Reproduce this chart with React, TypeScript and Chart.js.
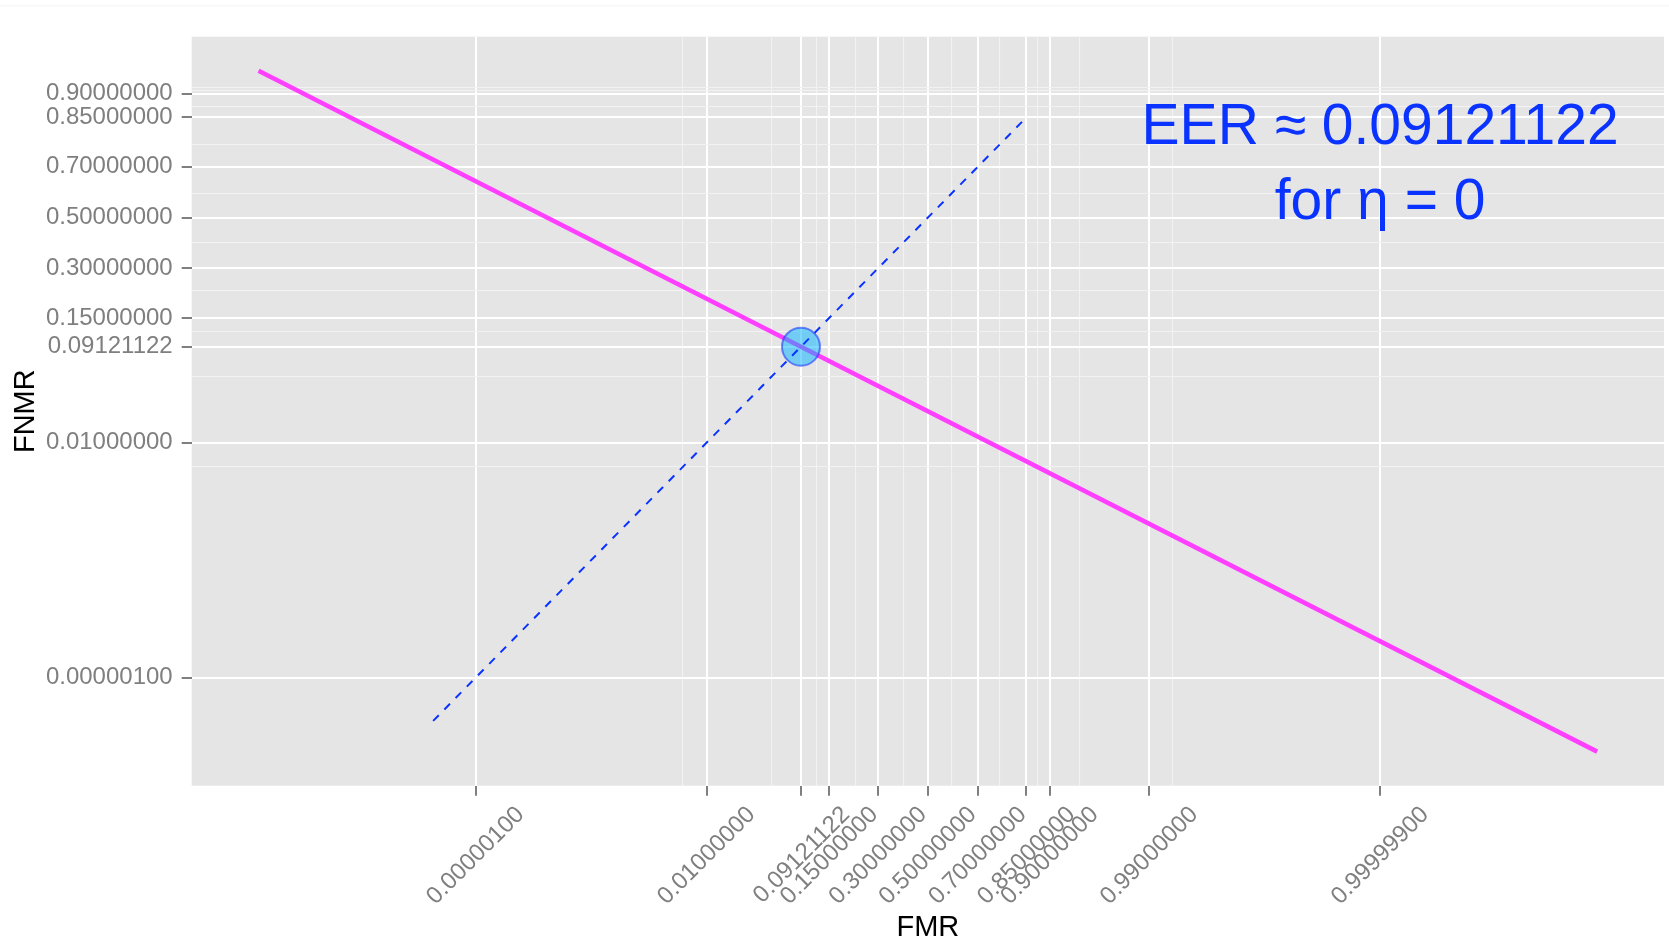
import React, { useEffect, useRef } from "react";
import { Chart, registerables } from "chart.js";

Chart.register(...registerables);

// Axis break probabilities (drawn on a normal-deviate / probit scale)
const fmrBreaks = [0.000001, 0.01, 0.09121122, 0.15, 0.3, 0.5, 0.7, 0.85, 0.9, 0.99, 0.999999];
const fnmrBreaks = [0.000001, 0.01, 0.09121122, 0.15, 0.3, 0.5, 0.7, 0.85, 0.9];

// DET curve: FMR / FNMR pairs
const detFmr = [1e-12, 0.09121122, 0.999999999999];
const detFnmr = [0.9354, 0.09121122, 1.725e-8];

// FMR = FNMR reference diagonal
const diagFmr = [1e-7, 0.85];
const diagFnmr = [1e-7, 0.85];

// Equal error rate and threshold shown in the annotation
const eer = 0.09121122;
const eta = 0;

// Panel limits in normal deviates
const xLimits = [-7.737, 7.737];
const yLimits = [-5.869, 1.869];

// Annotation anchor (FMR, FNMR probability for each text line's baseline)
const noteFmr = 0.999999;
const noteFnmr = [0.778, 0.493];
const noteLines = [`EER \u2248 ${eer.toFixed(8)}`, `for \u03b7 = ${eta}`];

const FONT = '"Liberation Sans", Arial, Helvetica, sans-serif';

// Inverse standard normal CDF (Acklam's rational approximation)
function qnorm(p: number): number {
  const a = [-3.969683028665376e1, 2.209460984245205e2, -2.759285104469687e2, 1.38357751867269e2, -3.066479806614716e1, 2.506628277459239];
  const b = [-5.447609879822406e1, 1.615858368580409e2, -1.556989798598866e2, 6.680131188771972e1, -1.328068155288572e1];
  const c = [-7.784894002430293e-3, -3.223964580411365e-1, -2.400758277161838, -2.549732539343734, 4.374664141464968, 2.938163982698783];
  const d = [7.784695709041462e-3, 3.224671290700398e-1, 2.445134137142996, 3.754408661907416];
  const pl = 0.02425;
  if (p < pl) {
    const q = Math.sqrt(-2 * Math.log(p));
    return (((((c[0] * q + c[1]) * q + c[2]) * q + c[3]) * q + c[4]) * q + c[5]) / ((((d[0] * q + d[1]) * q + d[2]) * q + d[3]) * q + 1);
  }
  if (p <= 1 - pl) {
    const q = p - 0.5;
    const r = q * q;
    return ((((((a[0] * r + a[1]) * r + a[2]) * r + a[3]) * r + a[4]) * r + a[5]) * q) / (((((b[0] * r + b[1]) * r + b[2]) * r + b[3]) * r + b[4]) * r + 1);
  }
  const q = Math.sqrt(-2 * Math.log(1 - p));
  return -(((((c[0] * q + c[1]) * q + c[2]) * q + c[3]) * q + c[4]) * q + c[5]) / ((((d[0] * q + d[1]) * q + d[2]) * q + d[3]) * q + 1);
}

type TickObj = { value: number; p: number; minor: boolean };

// Major ticks plus minor grid positions halfway (in probability) between breaks
function buildTicks(majors: number[], limits: number[]): TickObj[] {
  const b = [...majors].sort((u, v) => u - v);
  const bd = b[1] - b[0];
  const ext = [b[0] - bd, ...b, b[b.length - 1] + bd];
  const minors: number[] = [];
  for (let i = 0; i < ext.length - 1; i++) {
    minors.push(ext[i], (ext[i] + ext[i + 1]) / 2);
  }
  minors.push(ext[ext.length - 1]);
  const inRange = (p: number) => p > 0 && p < 1 && qnorm(p) >= limits[0] && qnorm(p) <= limits[1];
  const list: TickObj[] = [
    ...majors.map((p) => ({ value: qnorm(p), p, minor: false })),
    ...minors.filter((p) => inRange(p) && !majors.includes(p)).map((p) => ({ value: qnorm(p), p, minor: true })),
  ];
  list.sort((u, v) => u.value - v.value);
  return list;
}

const xTicks = buildTicks(fmrBreaks, xLimits);
const yTicks = buildTicks(fnmrBreaks, yLimits);

const gridOptions = {
  color: (ctx: any) => (ctx.tick && ctx.tick.minor ? "#F2F2F2" : "#FFFFFF"),
  lineWidth: (ctx: any) => (ctx.tick && ctx.tick.minor ? 1.1 : 2),
  tickColor: (ctx: any) => (ctx.tick && ctx.tick.minor ? "rgba(0,0,0,0)" : "#7F7F7F"),
  tickWidth: 2,
  tickLength: 10,
  drawOnChartArea: true,
  drawTicks: true,
};

const tickLabel = function (this: any, _v: number, index: number, ticks: any[]) {
  const t = ticks[index];
  return t && !t.minor ? t.p.toFixed(8) : "";
};

const panelPlugin = {
  id: "panel",
  beforeDraw(chart: any) {
    const { ctx, chartArea } = chart;
    ctx.save();
    ctx.fillStyle = "#F7F7F7";
    ctx.fillRect(0, 5, chart.width, 1.5);
    ctx.fillStyle = "#E5E5E5";
    ctx.fillRect(chartArea.left, chartArea.top, chartArea.right - chartArea.left, chartArea.bottom - chartArea.top);
    ctx.restore();
  },
};

const notePlugin = {
  id: "eerNote",
  afterDatasetsDraw(chart: any) {
    const { ctx } = chart;
    const xs = chart.scales.x;
    const ys = chart.scales.y;
    ctx.save();
    ctx.fillStyle = "#0A33FF";
    ctx.font = `57px ${FONT}`;
    ctx.textAlign = "center";
    ctx.textBaseline = "alphabetic";
    const x = xs.getPixelForValue(qnorm(noteFmr));
    noteLines.forEach((line, i) => {
      ctx.fillText(line, x, ys.getPixelForValue(qnorm(noteFnmr[i])));
    });
    ctx.restore();
  },
};

export default function App() {
  const canvasRef = useRef<HTMLCanvasElement | null>(null);

  useEffect(() => {
    document.body.style.margin = "0";
    const canvas = canvasRef.current;
    if (!canvas) return;
    Chart.defaults.font.family = FONT;

    const chart = new Chart(canvas, {
      type: "scatter",
      data: {
        datasets: [
          {
            label: "FMR = FNMR",
            data: diagFmr.map((p, i) => ({ x: qnorm(p), y: qnorm(diagFnmr[i]) })),
            showLine: true,
            borderColor: "#0A33FF",
            borderWidth: 2,
            borderDash: [8, 8],
            pointRadius: 0,
            order: 1,
          },
          {
            label: "EER",
            data: [{ x: qnorm(eer), y: qnorm(eer) }],
            showLine: false,
            pointRadius: 19,
            pointHoverRadius: 19,
            backgroundColor: "rgba(0,178,255,0.5)",
            borderColor: "rgba(30,60,255,0.6)",
            borderWidth: 2,
            order: 2,
          },
          {
            label: "DET",
            data: detFmr.map((p, i) => ({ x: qnorm(p), y: qnorm(detFnmr[i]) })),
            showLine: true,
            borderColor: "#FF3FFF",
            borderWidth: 4.5,
            pointRadius: 0,
            order: 3,
          },
        ],
      },
      options: {
        responsive: false,
        animation: false,
        devicePixelRatio: 1,
        layout: { autoPadding: false, padding: { top: 36.7, right: 5, left: 0, bottom: 0 } },
        plugins: { legend: { display: false }, tooltip: { enabled: false } },
        events: [],
        scales: {
          x: {
            type: "linear",
            min: xLimits[0],
            max: xLimits[1],
            border: { display: false },
            grid: gridOptions as any,
            afterBuildTicks: (scale: any) => {
              scale.ticks = xTicks.map((t) => ({ ...t }));
            },
            afterFit: (scale: any) => {
              scale.height = 156.3;
              scale.paddingLeft = 0;
              scale.paddingRight = 0;
            },
            ticks: {
              autoSkip: false,
              minRotation: 45,
              maxRotation: 45,
              color: "#7F7F7F",
              font: { size: 24, family: FONT },
              padding: 5,
              labelOffset: 45,
              callback: tickLabel as any,
            },
            title: {
              display: true,
              text: "FMR",
              color: "#000000",
              font: { size: 29, family: FONT, lineHeight: 1 },
              padding: { top: 0, bottom: 0 },
            },
          },
          y: {
            type: "linear",
            min: yLimits[0],
            max: yLimits[1],
            border: { display: false },
            grid: gridOptions as any,
            afterBuildTicks: (scale: any) => {
              scale.ticks = yTicks.map((t) => ({ ...t }));
            },
            afterFit: (scale: any) => {
              scale.width = 191.7;
              scale.paddingTop = 0;
              scale.paddingBottom = 0;
            },
            ticks: {
              autoSkip: false,
              color: "#7F7F7F",
              font: { size: 24, family: FONT },
              padding: 9,
              callback: tickLabel as any,
            },
            title: {
              display: true,
              text: "FNMR",
              color: "#000000",
              font: { size: 29, family: FONT, lineHeight: 1 },
              padding: { top: 11.5, bottom: 0 },
            },
          },
        },
      },
      plugins: [panelPlugin, notePlugin],
    });

    return () => chart.destroy();
  }, []);

  return <canvas ref={canvasRef} width={1669} height={942} style={{ display: "block", width: 1669, height: 942 }} />;
}
